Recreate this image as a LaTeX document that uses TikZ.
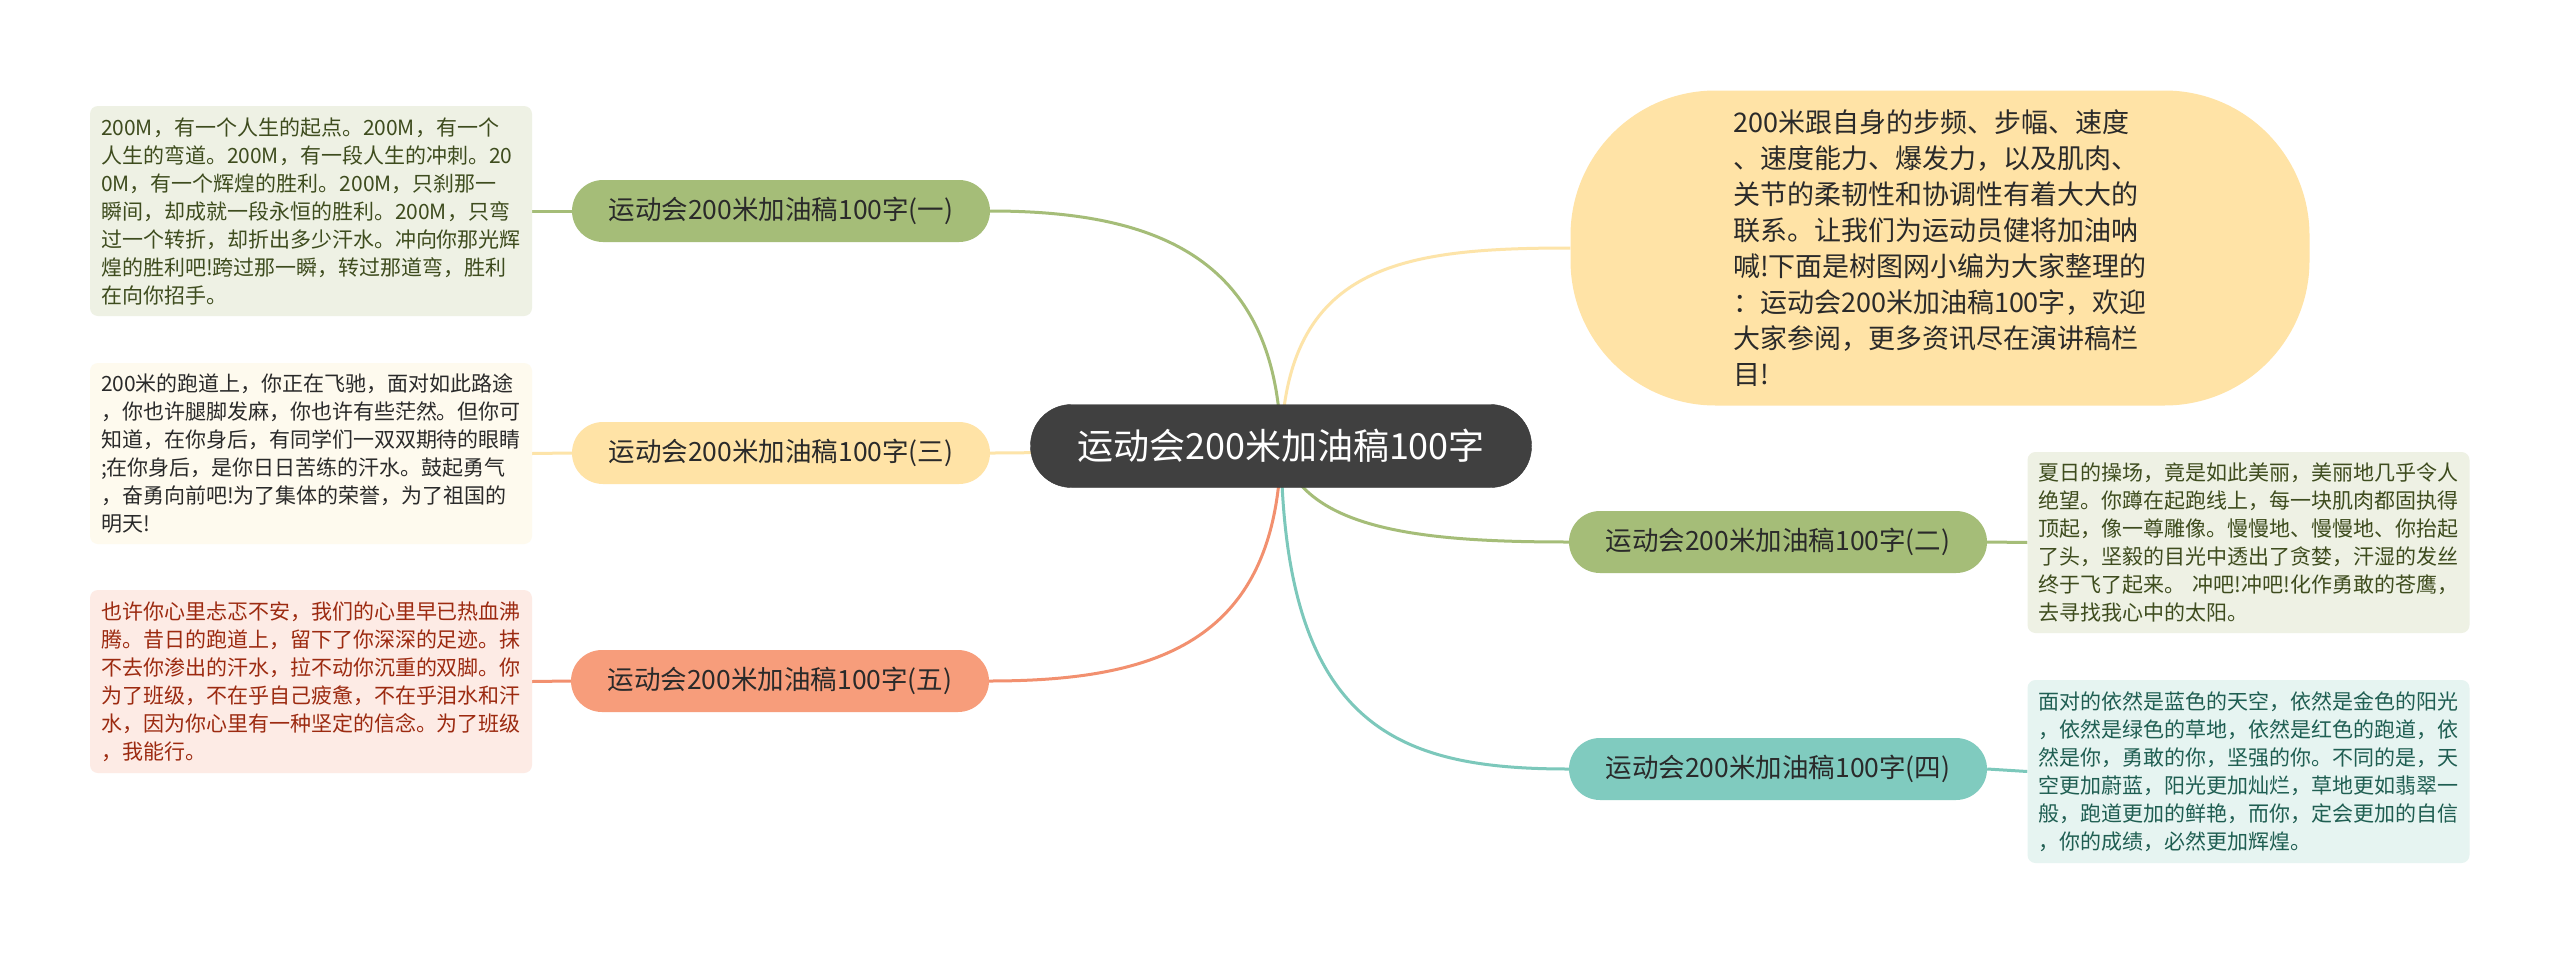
\documentclass[tikz,border=0pt]{standalone}
\usepackage{fontspec}
\setmainfont{Noto Sans CJK SC}
\usetikzlibrary{backgrounds}
\definecolor{cGreen}{HTML}{A5BD78}
\definecolor{cYellow}{HTML}{FFE3A6}
\definecolor{cYellowLine}{HTML}{FDE4A9}
\definecolor{cOrange}{HTML}{F79D7B}
\definecolor{cOrangeLine}{HTML}{F2906F}
\definecolor{cTeal}{HTML}{80CBBF}
\definecolor{cTealLine}{HTML}{7CC8BB}
\definecolor{cDark}{HTML}{404040}
\definecolor{dGreen}{HTML}{EEF1E4}
\definecolor{dYellow}{HTML}{FEFAEE}
\definecolor{dPink}{HTML}{FDEBE5}
\definecolor{dTeal}{HTML}{E6F4F1}
\definecolor{tGreen}{HTML}{3E4C1E}
\definecolor{tPink}{HTML}{9C2A10}
\definecolor{tTeal}{HTML}{1F5E52}
\definecolor{tDark}{HTML}{2A2A2A}
\tikzset{
  detail/.style={rounded corners=8pt, align=left, text width=420pt, inner xsep=11pt,
    inner ysep=0pt, font=\fontsize{21pt}{28pt}\selectfont},
  branch/.style={rounded corners=31pt, minimum width=418pt, minimum height=62pt,
    inner sep=0pt, font=\fontsize{26.5pt}{30pt}\selectfont, text=tDark},
  conn/.style={line width=3pt},
}
\begin{document}
\begin{tikzpicture}[x=1pt,y=-1pt]
\useasboundingbox (0,0) rectangle (2560,953);

% central
\node[fill=cDark, draw=cDark!85!black, rounded corners=41pt, minimum width=501pt, minimum height=83pt,
  inner sep=0pt, text=white, font=\fontsize{36pt}{42pt}\selectfont] (c) at (1281,446) {运动会200米加油稿100字};

% top-right intro
\node[fill=cYellow, rounded corners=145pt, minimum width=739pt, minimum height=315pt, inner sep=0pt,
  align=left, text=tDark, font=\fontsize{27pt}{36pt}\selectfont] (intro) at (1940,248)
  {200米跟自身的步频、步幅、速度\\、速度能力、爆发力，以及肌肉、\\关节的柔韧性和协调性有着大大的\\联系。让我们为运动员健将加油呐\\喊!下面是树图网小编为大家整理的\\：运动会200米加油稿100字，欢迎\\大家参阅，更多资讯尽在演讲稿栏\\目!};

% branches
\node[branch, fill=cGreen] (b1) at (781,211) {运动会200米加油稿100字(一)};
\node[branch, fill=cYellow] (b3) at (781,453) {运动会200米加油稿100字(三)};
\node[branch, fill=cOrange] (b5) at (780,681) {运动会200米加油稿100字(五)};
\node[branch, fill=cGreen] (b2) at (1778,542) {运动会200米加油稿100字(二)};
\node[branch, fill=cTeal] (b4) at (1778,769) {运动会200米加油稿100字(四)};

% details
\node[detail, fill=dGreen, text=tGreen, minimum height=210pt] (d1) at (311,211)
  {200M，有一个人生的起点。200M，有一个\\人生的弯道。200M，有一段人生的冲刺。20\\0M，有一个辉煌的胜利。200M，只刹那一\\瞬间，却成就一段永恒的胜利。200M，只弯\\过一个转折，却折出多少汗水。冲向你那光辉\\煌的胜利吧!跨过那一瞬，转过那道弯，胜利\\在向你招手。};
\node[detail, fill=dYellow, text=tDark, minimum height=181pt] (d3) at (311,453.5)
  {200米的跑道上，你正在飞驰，面对如此路途\\，你也许腿脚发麻，你也许有些茫然。但你可\\知道，在你身后，有同学们一双双期待的眼睛\\;在你身后，是你日日苦练的汗水。鼓起勇气\\，奋勇向前吧!为了集体的荣誉，为了祖国的\\明天!};
\node[detail, fill=dPink, text=tPink, minimum height=183pt] (d5) at (311,681.5)
  {也许你心里忐忑不安，我们的心里早已热血沸\\腾。昔日的跑道上，留下了你深深的足迹。抹\\不去你渗出的汗水，拉不动你沉重的双脚。你\\为了班级，不在乎自己疲惫，不在乎泪水和汗\\水，因为你心里有一种坚定的信念。为了班级\\，我能行。};
\node[detail, fill=dGreen, text=tGreen, minimum height=181pt] (d2) at (2248.5,542.5)
  {夏日的操场，竟是如此美丽，美丽地几乎令人\\绝望。你蹲在起跑线上，每一块肌肉都固执得\\顶起，像一尊雕像。慢慢地、慢慢地、你抬起\\了头，坚毅的目光中透出了贪婪，汗湿的发丝\\终于飞了起来。~冲吧!冲吧!化作勇敢的苍鹰，\\去寻找我心中的太阳。};
\node[detail, fill=dTeal, text=tTeal, minimum height=183pt] (d4) at (2248.5,771.5)
  {面对的依然是蓝色的天空，依然是金色的阳光\\，依然是绿色的草地，依然是红色的跑道，依\\然是你，勇敢的你，坚强的你。不同的是，天\\空更加蔚蓝，阳光更加灿烂，草地更如翡翠一\\般，跑道更加的鲜艳，而你，定会更加的自信\\，你的成绩，必然更加辉煌。};

\begin{scope}[on background layer]
  \fill[white] (0,0) rectangle (2560,953);
  % main curves
  \draw[conn, cGreen] (c.center) .. controls (1278,260) and (1160,211) .. (b1.east);
  \draw[conn, cYellowLine] (c.center) .. controls (1286,265) and (1400,248) .. (intro.west);
  \draw[conn, cYellowLine] (c.center) .. controls (1100,446) and (1100,453) .. (b3.east);
  \draw[conn, cOrangeLine] (c.center) .. controls (1278,640) and (1160,681) .. (b5.east);
  \draw[conn, cGreen] (c.center) .. controls (1300,530) and (1420,542) .. (b2.west);
  \draw[conn, cTealLine] (c.center) .. controls (1283,730) and (1400,769) .. (b4.west);
  % detail links
  \draw[conn, cGreen] (b1.west) -- (d1.east);
  \draw[conn, cYellowLine] (b3.west) -- (d3.east);
  \draw[conn, cOrangeLine] (b5.west) -- (d5.east);
  \draw[conn, cGreen] (b2.east) -- (d2.west);
  \draw[conn, cTealLine] (b4.east) -- (d4.west);
\end{scope}
\end{tikzpicture}
\end{document}
